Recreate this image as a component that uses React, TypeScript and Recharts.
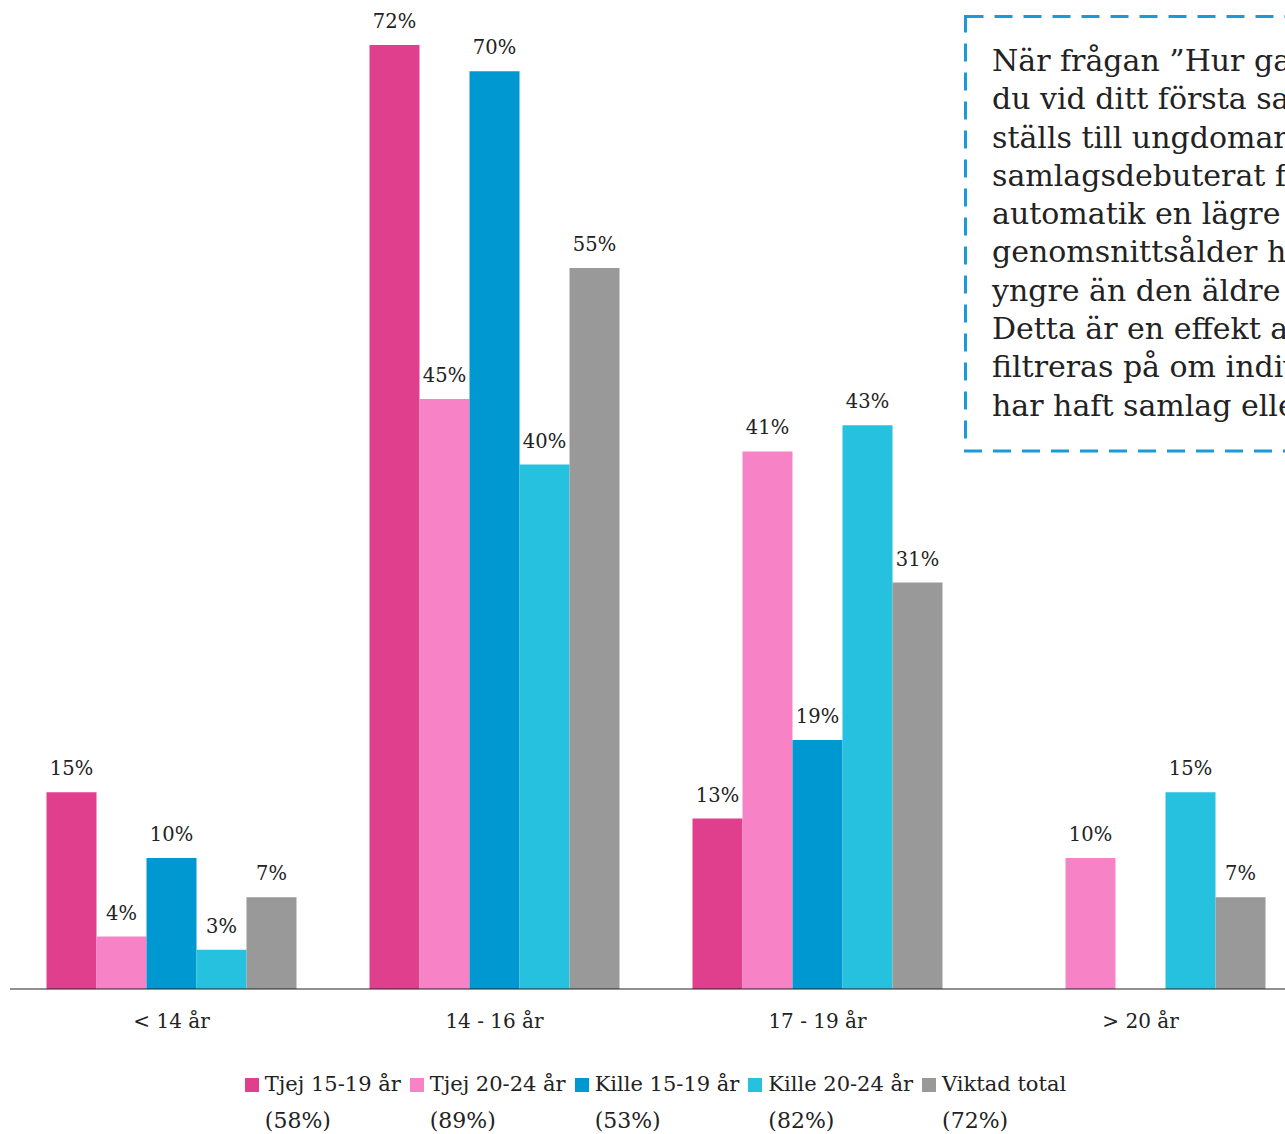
import React from "react"
import { BarChart, Bar, XAxis, YAxis, LabelList } from "recharts"

const categories = ["< 14 år", "14 - 16 år", "17 - 19 år", "> 20 år"]
const seriesNames = ["Tjej 15-19 år", "Tjej 20-24 år", "Kille 15-19 år", "Kille 20-24 år", "Viktad total"]
const seriesShares = ["(58%)", "(89%)", "(53%)", "(82%)", "(72%)"]
const seriesColors = ["#e03f8e", "#f783c6", "#0098d0", "#25c1de", "#999999"]

const tjej1519 = [15, 72, 13, null]
const tjej2024 = [4, 45, 41, 10]
const kille1519 = [10, 70, 19, null]
const kille2024 = [3, 40, 43, 15]
const viktad = [7, 55, 31, 7]

const noteLines = [
  "När frågan ”Hur gammal var",
  "du vid ditt första samlag?”",
  "ställs till ungdomar som har",
  "samlagsdebuterat får man med",
  "automatik en lägre",
  "genomsnittsålder hos gruppen",
  "yngre än den äldre gruppen.",
  "Detta är en effekt av att svaren",
  "filtreras på om individen",
  "har haft samlag eller inte.",
]

const seriesValues = [tjej1519, tjej2024, kille1519, kille2024, viktad]
const keys = ["s0", "s1", "s2", "s3", "s4"]

const data = categories.map((c, i) => {
  const row: any = { name: c }
  seriesValues.forEach((vals, s) => {
    row[keys[s]] = vals[i]
  })
  return row
})

const FONT = "'DejaVu Serif', serif"
const TEXT = "#222222"

export default function App() {
  return (
    <div
      style={{
        position: "absolute",
        left: 0,
        top: 0,
        width: 1285,
        height: 1134,
        overflow: "hidden",
        background: "#fff",
        fontFamily: FONT,
      }}
    >
      <div style={{ position: "absolute", left: 0, top: 0 }}>
        <BarChart
          width={1302}
          height={1045}
          data={data}
          margin={{ top: 45, right: 0, left: 10, bottom: 0 }}
          barCategoryGap={36.5}
          barGap={0}
        >
          <XAxis
            dataKey="name"
            height={56}
            tickLine={false}
            axisLine={{ stroke: TEXT, strokeWidth: 1.2 }}
            tick={{ fill: TEXT, fontSize: 20, fontFamily: FONT }}
            tickMargin={19}
            interval={0}
          />
          <YAxis hide domain={[0, 72]} />
          {keys.map((k, s) => (
            <Bar key={k} dataKey={k} fill={seriesColors[s]} isAnimationActive={false}>
              <LabelList
                dataKey={k}
                position="top"
                offset={17}
                fill={TEXT}
                fontSize={19.5}
                fontFamily={FONT}
                formatter={(v: any) => (v == null ? "" : `${v}%`)}
              />
            </Bar>
          ))}
        </BarChart>
      </div>

      {/* legend */}
      <div
        style={{
          position: "absolute",
          left: 0,
          top: 1066,
          width: 1311,
          display: "flex",
          justifyContent: "center",
          fontSize: 21,
          color: TEXT,
          lineHeight: "36px",
        }}
      >
        {seriesNames.map((n, s) => (
          <div key={n} style={{ display: "flex", alignItems: "flex-start", marginRight: s < 4 ? 9 : 0 }}>
            <div
              style={{
                width: 14,
                height: 14,
                background: seriesColors[s],
                marginTop: 12,
                marginRight: 6,
              }}
            />
            <div style={{ whiteSpace: "nowrap" }}>
              <div>{n}</div>
              <div style={{ lineHeight: "38px", fontSize: 22 }}>{seriesShares[s]}</div>
            </div>
          </div>
        ))}
      </div>

      {/* note box */}
      <svg style={{ position: "absolute", left: 0, top: 0 }} width={1285} height={1134}>
        <rect
          x={965.5}
          y={16.5}
          width={400}
          height={434.5}
          fill="#fff"
          stroke="#1a9bd7"
          strokeWidth={3}
          strokeDasharray="18 11"
        />
      </svg>
      <div
        style={{
          position: "absolute",
          left: 992,
          top: 42,
          fontSize: 30,
          lineHeight: "38.3px",
          color: TEXT,
          whiteSpace: "nowrap",
        }}
      >
        {noteLines.map((l) => (
          <div key={l}>{l}</div>
        ))}
      </div>
    </div>
  )
}
